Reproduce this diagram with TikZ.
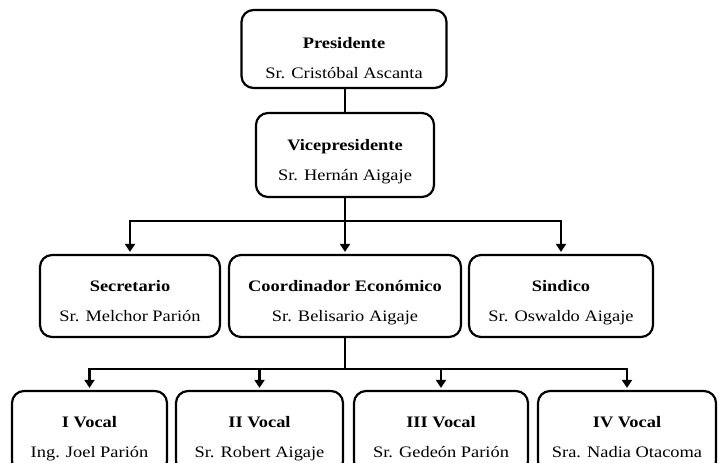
\documentclass[tikz,border=0pt]{standalone}
\usepackage{fontspec}
\setmainfont{Liberation Serif}[FakeStretch=1.15]
\usepackage{tikz}
\usetikzlibrary{arrows.meta}
\tikzset{
    cargo-box/.style = {draw=black, line width=2.2pt, rectangle, rounded corners=12pt, align=center, inner sep=0pt, minimum height=82pt, font=\fontsize{16}{19}\selectfont},
    link-line/.style = {draw=black, line width=2.4pt},
    link-arrow/.style = {link-line, -{Triangle[length=8pt,width=10pt]}, shorten >=2pt},
}
\newcommand{\cargo}[3][24pt]{\rule{0pt}{#1}\textbf{#2}\\[11pt]#3\rule[-4pt]{0pt}{4pt}}

\begin{document}
\begin{tikzpicture}[x=1pt,y=-1pt]
\useasboundingbox (0,0) rectangle (720,463);
\clip (0,0) rectangle (720,463);
\node [cargo-box, minimum width=205pt, minimum height=78pt] (pres) at (344,49) {\cargo[32pt]{Presidente}{Sr. Cristóbal Ascanta}};
\node [cargo-box, minimum width=178pt, minimum height=84pt] (vice) at (345,155) {\cargo{Vicepresidente}{Sr. Hernán Aigaje}};
\node [cargo-box, minimum width=180pt] (sec) at (130,296) {\cargo{Secretario}{Sr. Melchor Parión}};
\node [cargo-box, minimum width=232pt] (coord) at (345,296) {\cargo{Coordinador Económico}{Sr. Belisario Aigaje}};
\node [cargo-box, minimum width=184pt] (sind) at (561,296) {\cargo{Sindico}{Sr. Oswaldo Aigaje}};
\node [cargo-box, minimum width=155pt] (vocal1) at (89.5,432) {\cargo{I Vocal}{Ing. Joel Parión}};
\node [cargo-box, minimum width=167pt] (vocal2) at (259.5,432) {\cargo{II Vocal}{Sr. Robert Aigaje}};
\node [cargo-box, minimum width=174pt] (vocal3) at (441,432) {\cargo{III Vocal}{Sr. Gedeón Parión}};
\node [cargo-box, minimum width=178pt] (vocal4) at (627,432) {\cargo{IV Vocal}{Sra. Nadia Otacoma}};
\coordinate (bus1) at (345,221);
\coordinate (bus2) at (345,369);
\draw [link-line] (vice.north |- pres.south) -- (vice.north);
\draw [link-line] (vice.south) -- (bus1);
\draw [link-arrow] (bus1) -- (coord.north);
\foreach \n in {sec,sind}
    \draw [link-arrow] (bus1) -| (\n.north);
\draw [link-line] (coord.south) -- (bus2);
\foreach \n in {vocal1,vocal2,vocal3,vocal4}
    \draw [link-arrow] (bus2) -| (\n.north);
\end{tikzpicture}
\end{document}
